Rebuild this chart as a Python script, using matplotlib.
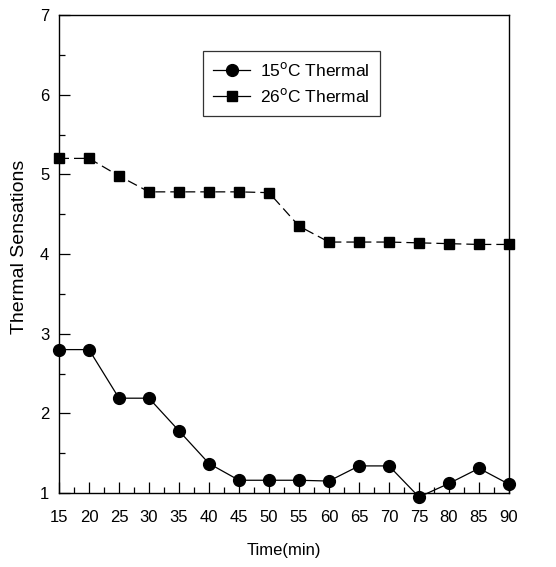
import matplotlib
matplotlib.use("Agg")
import matplotlib.pyplot as plt
from matplotlib.lines import Line2D
from matplotlib.ticker import MultipleLocator

plt.rcParams['font.family'] = ['Liberation Sans', 'DejaVu Sans']

time_min = [15, 20, 25, 30, 35, 40, 45, 50, 55, 60, 65, 70, 75, 80, 85, 90]
thermal_15 = [2.8, 2.8, 2.19, 2.19, 1.78, 1.37, 1.16, 1.16, 1.16, 1.15, 1.34, 1.34, 0.95, 1.12, 1.31, 1.11]
thermal_26 = [5.2, 5.2, 4.98, 4.78, 4.78, 4.78, 4.78, 4.77, 4.35, 4.15, 4.15, 4.15, 4.14, 4.13, 4.12, 4.12]
x_ticks = [15, 20, 25, 30, 35, 40, 45, 50, 55, 60, 65, 70, 75, 80, 85, 90]
y_ticks = [1, 2, 3, 4, 5, 6, 7]
labels = ['15$^{\\rm o}$C Thermal', '26$^{\\rm o}$C Thermal']

fig = plt.figure(figsize=(5.56, 5.67), dpi=100)
ax = fig.add_axes([59/556, 1 - 493/567, 450/556, 478/567])

ax.plot(time_min, thermal_15, '-', color='black', lw=0.9, marker='o', ms=8.5, clip_on=False, zorder=3)
ax.plot(time_min, thermal_26, color='black', lw=0.9, ls=(0, (8, 4)), marker='s', ms=7.5, clip_on=False, zorder=3)

ax.set_xlim(15, 90)
ax.set_ylim(1, 7)
ax.set_xticks(x_ticks)
ax.set_yticks(y_ticks)
ax.xaxis.set_minor_locator(MultipleLocator(2.5))
ax.yaxis.set_minor_locator(MultipleLocator(0.5))
ax.tick_params(axis='both', which='major', direction='in', length=8, width=0.9, labelsize=12, top=False, right=False)
ax.tick_params(axis='both', which='minor', direction='in', length=4, width=0.9, top=False, right=False)
ax.tick_params(axis='x', pad=12)
ax.tick_params(axis='y', pad=7)
for s in ax.spines.values():
    s.set_linewidth(1.0)

ax.set_xlabel('Time(min)', fontsize=12, labelpad=13)
ax.set_ylabel('Thermal Sensations', fontsize=14)
ax.yaxis.set_label_coords(-0.068, 0.515)

handles = [Line2D([], [], color='black', lw=0.9, marker='o', ms=8.5),
           Line2D([], [], color='black', lw=0.9, marker='s', ms=7.5)]
leg = ax.legend(handles, labels, loc='upper left', bbox_to_anchor=((203 - 59)/450, 1 - (51 - 15)/478),
                borderaxespad=0, frameon=True, fancybox=False, edgecolor='black', fontsize=12.5,
                handlelength=2.1, borderpad=0.6, labelspacing=0.45, handletextpad=0.6)
leg.get_frame().set_linewidth(0.9)

fig.savefig('out.png', dpi=100)
